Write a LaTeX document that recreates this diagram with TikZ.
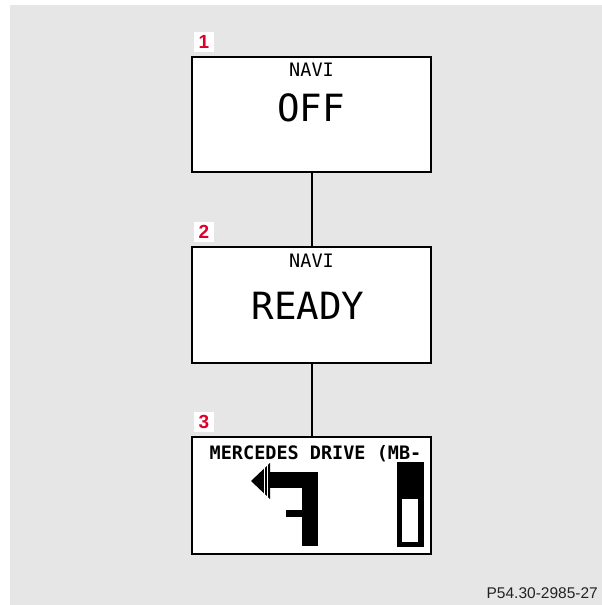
\documentclass[tikz,border=0pt]{standalone}
\usepackage{fontspec}
\setmainfont{Liberation Sans}
\newfontfamily\lcdfont{DejaVu Sans Mono}
\definecolor{bggrey}{RGB}{230,230,230}
\definecolor{labelred}{RGB}{222,0,42}
\definecolor{footgrey}{RGB}{35,35,35}
\tikzset{
  screen/.style={draw=black, line width=2pt, fill=white, minimum width=239pt, inner sep=0pt},
  numtag/.style={fill=white, minimum width=20pt, minimum height=20pt, inner sep=0pt,
    text=labelred, font=\fontsize{19}{19}\selectfont\bfseries},
  smalllcd/.style={inner sep=0pt, anchor=base, font=\lcdfont\fontsize{18.5}{18.5}\selectfont},
  biglcd/.style={inner sep=0pt, anchor=base, font=\lcdfont\fontsize{37.5}{37.5}\selectfont},
  link/.style={draw=black, line width=1.5pt}
}
\begin{document}
\begin{tikzpicture}[x=1pt,y=-1pt]
\useasboundingbox (0,0) rectangle (602,605);
\fill[white] (0,0) rectangle (602,605);
\fill[bggrey] (9.5,5) rectangle (602,605);

% screens
\node[screen, minimum height=115pt] (s1) at (311.5,114.5) {};
\node[screen, minimum height=116pt] (s2) at (311.5,305) {};
\node[screen, minimum height=117pt] (s3) at (311.5,495.5) {};

% connectors
\coordinate (c1t) at (312,172);
\coordinate (c1b) at (312,247);
\coordinate (c2t) at (312,363);
\coordinate (c2b) at (312,437);
\draw[link] (c1t) -- (c1b);
\draw[link] (c2t) -- (c2b);

% number tags
\node[numtag] (n1) at (204,42) {1};
\node[numtag] (n2) at (204,232) {2};
\node[numtag] (n3) at (204,421.5) {3};

% screen 1 text
\node[smalllcd] (t1a) at (311.5,76) {NAVI};
\node[biglcd] (t1b) at (311,121) {OFF};
% screen 2 text
\node[smalllcd] (t2a) at (311.5,267) {NAVI};
\node[biglcd] (t2b) at (308,319) {READY};
% screen 3 text
\node[smalllcd, anchor=base west, font=\lcdfont\bfseries\fontsize{18.5}{18.5}\selectfont] (t3a) at (209.5,459) {MERCEDES DRIVE (MB-};

% turn arrow
\fill[black] (251,481) -- (270,463) -- (270,499) -- cycle;
\draw[white, line width=0.8pt] (264.5,466) -- (264.5,496);
\draw[white, line width=0.8pt] (267.5,464) -- (267.5,498);
\fill[black] (270,472) rectangle (318,488);
\fill[black] (302,472) rectangle (318,546);
\fill[black] (286,510) rectangle (302,517);

% bar indicator
\fill[black] (397,462) rectangle (424,547);
\fill[white] (402,499) rectangle (418,542);

% footer
\node[inner sep=0pt, anchor=base east, text=footgrey, font=\fontsize{15.5}{15.5}\selectfont] (foot) at (598,598) {P54.30-2985-27};
\end{tikzpicture}
\end{document}
